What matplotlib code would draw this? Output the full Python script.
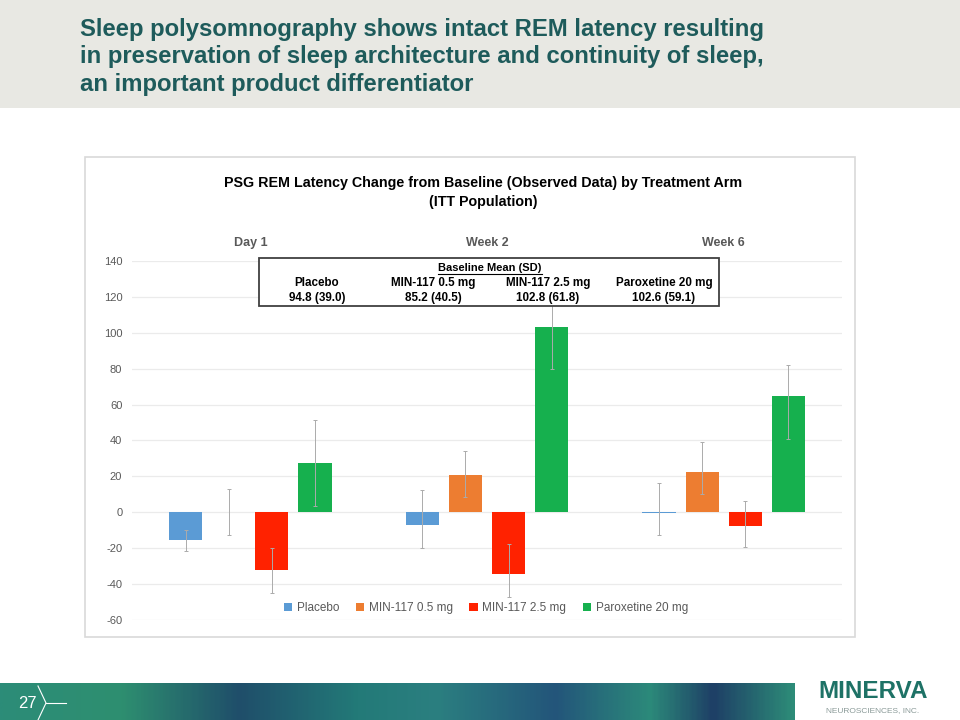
import matplotlib.pyplot as plt
import numpy as np
from matplotlib.patches import Rectangle
from matplotlib.colors import LinearSegmentedColormap

# data
groups = ['Day 1', 'Week 2', 'Week 6']
arms = ['Placebo', 'MIN-117 0.5 mg', 'MIN-117 2.5 mg', 'Paroxetine 20 mg']
placebo = [-15.7, -6.8, -0.6]
min117_05 = [0.2, 20.6, 22.2]
min117_25 = [-32.1, -34.3, -7.4]
paroxetine = [27.3, 103.3, 64.8]
# error bar lengths below / above the mean
placebo_lo = [6.0, 13.2, 12.2]
placebo_hi = [5.7, 19.4, 16.9]
min117_05_lo = [12.7, 12.3, 12.2]
min117_05_hi = [12.7, 13.7, 17.2]
min117_25_lo = [12.6, 12.7, 12.2]
min117_25_hi = [12.3, 16.4, 13.5]
paroxetine_lo = [23.9, 23.5, 23.7]
paroxetine_hi = [24.1, 23.5, 17.2]
baseline_vals = ['94.8 (39.0)', '85.2 (40.5)', '102.8 (61.8)', '102.6 (59.1)']
yticks = [-60, -40, -20, 0, 20, 40, 60, 80, 100, 120, 140]

colors = ['#5B9BD5', '#ED7D31', '#FF2200', '#16B04E']
title_col = '#1E5B5B'
grey_txt = '#595959'

plt.rcParams['font.family'] = ['Liberation Sans', 'DejaVu Sans']

fig = plt.figure(figsize=(9.6, 7.2), dpi=100)

# header band
fig.patches.append(Rectangle((0, 1 - 108 / 720), 1, 108 / 720, transform=fig.transFigure,
                             facecolor='#E8E8E3', edgecolor='none', zorder=-2))
fig.text(80 / 960, 1 - 57 / 720,
         'Sleep polysomnography shows intact REM latency resulting\n'
         'in preservation of sleep architecture and continuity of sleep,\n'
         'an important product differentiator',
         ha='left', va='center', fontsize=17.2, fontweight='bold', color=title_col,
         linespacing=1.24)

# chart frame
fig.patches.append(Rectangle((85 / 960, 1 - 637 / 720), 770 / 960, 480 / 720,
                             transform=fig.transFigure, facecolor='white',
                             edgecolor='#D9D9D9', linewidth=1.2, zorder=-2))
fig.text(483 / 960, 1 - 192.5 / 720,
         'PSG REM Latency Change from Baseline (Observed Data) by Treatment Arm\n(ITT Population)',
         ha='center', va='center', fontsize=10.3, fontweight='bold', color='black',
         linespacing=1.45)

ax = fig.add_axes([132 / 960, 1 - 620 / 720, 710 / 960, 359 / 720])
x = np.arange(len(groups))
step = 0.182
width = 0.14
series = [placebo, min117_05, min117_25, paroxetine]
lows = [placebo_lo, min117_05_lo, min117_25_lo, paroxetine_lo]
highs = [placebo_hi, min117_05_hi, min117_25_hi, paroxetine_hi]
for i, (vals, lo, hi) in enumerate(zip(series, lows, highs)):
    pos = x + (i - 1.5) * step
    ax.bar(pos, vals, width=width, color=colors[i], label=arms[i], zorder=2)
    ax.errorbar(pos, vals, yerr=[lo, hi], fmt='none', ecolor='#ABABAB',
                elinewidth=0.7, capsize=1.5, capthick=0.7, zorder=3)

ax.set_xlim(-0.5, 2.5)
ax.set_ylim(-60, 140)
ax.set_yticks(yticks)
ax.set_yticklabels([str(t) for t in yticks], fontsize=8, color=grey_txt)
ax.tick_params(axis='y', length=0, pad=7)
ax.set_xticks([])
ax.grid(axis='y', color='#EBEBEB', linewidth=0.9, zorder=0)
ax.set_axisbelow(True)
for s in ax.spines.values():
    s.set_visible(False)
ax.patch.set_alpha(0)

for xi, g in zip(x, groups):
    ax.text(xi, 1.05, g, transform=ax.get_xaxis_transform(), ha='center', va='center',
            fontsize=9, fontweight='bold', color=grey_txt)

# baseline box
bx0, bx1 = (259 - 132) / 710, (719 - 132) / 710
by0, by1 = (620 - 306) / 359, (620 - 258) / 359
ax.add_patch(Rectangle((bx0, by0), bx1 - bx0, by1 - by0, transform=ax.transAxes,
                       facecolor='white', edgecolor='#404040', linewidth=1.3,
                       zorder=5, clip_on=False))
ax.text((490 - 132) / 710, (620 - 268) / 359, 'Baseline Mean (SD)', transform=ax.transAxes,
        ha='center', va='center', fontsize=8, fontweight='bold', zorder=6)
ax.plot([(438 - 132) / 710, (542 - 132) / 710], [(620 - 274) / 359] * 2,
        transform=ax.transAxes, color='black', linewidth=0.8, zorder=6, clip_on=False)
name_x = [317, 433, 548, 664]
for nx, arm, bv in zip(name_x, arms, baseline_vals):
    ax.text((nx - 132) / 710, (620 - 283) / 359, arm, transform=ax.transAxes,
            ha='center', va='center', fontsize=8.4, fontweight='bold', zorder=6)
    ax.text((nx - 132) / 710, (620 - 298) / 359, bv, transform=ax.transAxes,
            ha='center', va='center', fontsize=8.4, fontweight='bold', zorder=6)

leg = fig.legend(loc='center', bbox_to_anchor=(486 / 960, 1 - 608 / 720), ncol=4,
                 frameon=False, fontsize=8.5, handlelength=0.7, handleheight=0.7,
                 handletextpad=0.4, columnspacing=1.4)
for t in leg.get_texts():
    t.set_color(grey_txt)

# footer band
cmap = LinearSegmentedColormap.from_list('foot', [
    (0.0, '#2C8C78'), (0.15, '#2E8F70'), (0.3, '#1F4E6A'), (0.45, '#237A78'),
    (0.55, '#2B7F80'), (0.7, '#23557A'), (0.82, '#2C8A7A'), (0.9, '#1E3F66'),
    (1.0, '#2D8B78')])
fax = fig.add_axes([0, 0, 795 / 960, 37 / 720])
fax.imshow(np.linspace(0, 1, 400)[None, :], aspect='auto', cmap=cmap, extent=[0, 1, 0, 1])
fax.set_axis_off()
fig.text(18 / 960, 1 - 703 / 720, '27', color='white', fontsize=12, ha='left', va='center')
fig.lines.append(plt.Line2D([38 / 960, 46 / 960, 38 / 960],
                            [1 - 686 / 720, 1 - 703 / 720, 1 - 720 / 720],
                            transform=fig.transFigure, color='white', linewidth=0.8))
fig.lines.append(plt.Line2D([46 / 960, 66 / 960], [1 - 703 / 720] * 2,
                            transform=fig.transFigure, color='white', linewidth=0.8))

fig.text(873 / 960, 1 - 692 / 720, 'MINERVA', color='#1E7266', fontsize=17.5, fontweight='bold',
         ha='center', va='center')
fig.text(873 / 960, 1 - 711 / 720, 'NEUROSCIENCES, INC.', color='#8A9A98', fontsize=6,
         ha='center', va='center')

plt.savefig('out.png', dpi=100)
